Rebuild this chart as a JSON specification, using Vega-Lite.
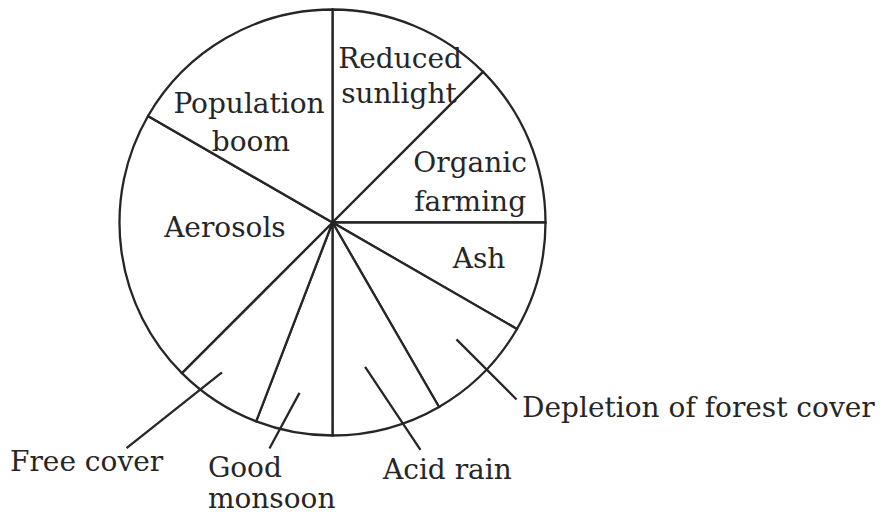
{
  "$schema": "https://vega.github.io/schema/vega-lite/v6.json",
  "width": 665,
  "height": 445,
  "autosize": {"type": "none"},
  "padding": {"left": 0, "top": 0, "right": 223, "bottom": 73},
  "background": "white",
  "config": {"view": {"stroke": null}},
  "datasets": {
    "slices": [
      {"order": 1, "cause": "Reduced sunlight", "degrees": 45},
      {"order": 2, "cause": "Organic farming", "degrees": 45},
      {"order": 3, "cause": "Ash", "degrees": 30},
      {"order": 4, "cause": "Depletion of forest cover", "degrees": 30},
      {"order": 5, "cause": "Acid rain", "degrees": 30},
      {"order": 6, "cause": "Good monsoon", "degrees": 21},
      {"order": 7, "cause": "Free cover", "degrees": 24},
      {"order": 8, "cause": "Aerosols", "degrees": 75},
      {"order": 9, "cause": "Population boom", "degrees": 60}
    ],
    "leaders": [
      {"cause": "Depletion of forest cover", "x1": 58.2, "y1": -54.9, "x2": 86.4, "y2": -83.1},
      {"cause": "Acid rain", "x1": 15.3, "y1": -67.8, "x2": 41.3, "y2": -106.8},
      {"cause": "Free cover", "x1": -51.9, "y1": -70.4, "x2": -96.7, "y2": -105.9},
      {"cause": "Good monsoon", "x1": -15.5, "y1": -80.0, "x2": -29.6, "y2": -106.1}
    ],
    "labels": [
      {"text": "Reduced", "x": 31.7, "y": 72.5, "align": "center"},
      {"text": "sunlight", "x": 31.2, "y": 56.1, "align": "center"},
      {"text": "Population", "x": -39.2, "y": 51.6, "align": "center"},
      {"text": "boom", "x": -38.3, "y": 33.8, "align": "center"},
      {"text": "Organic", "x": 64.6, "y": 23.5, "align": "center"},
      {"text": "farming", "x": 64.6, "y": 5.4, "align": "center"},
      {"text": "Ash", "x": 68.8, "y": -21.4, "align": "center"},
      {"text": "Aerosols", "x": -50.5, "y": -6.8, "align": "center"},
      {"text": "Depletion of forest cover", "x": 89.0, "y": -91.3, "align": "left"},
      {"text": "Acid rain", "x": 23.7, "y": -120.4, "align": "left"},
      {"text": "Free cover", "x": -151.4, "y": -116.7, "align": "left"},
      {"text": "Good", "x": -58.5, "y": -119.5, "align": "left"},
      {"text": "monsoon", "x": -58.5, "y": -134.0, "align": "left"}
    ]
  },
  "layer": [
    {
      "data": {"name": "slices"},
      "mark": {"type": "arc", "outerRadius": 213, "fill": "white", "stroke": "#262626", "strokeWidth": 2.3},
      "encoding": {
        "theta": {"field": "degrees", "type": "quantitative", "stack": true},
        "order": {"field": "order", "type": "quantitative"}
      }
    },
    {
      "data": {"name": "leaders"},
      "mark": {"type": "rule", "stroke": "#262626", "strokeWidth": 2.3},
      "encoding": {
        "x": {"field": "x1", "type": "quantitative", "scale": {"domain": [-156.1, 156.1], "nice": false, "zero": false}, "axis": null},
        "y": {"field": "y1", "type": "quantitative", "scale": {"domain": [-104.46, 104.46], "nice": false, "zero": false}, "axis": null},
        "x2": {"field": "x2"},
        "y2": {"field": "y2"}
      }
    },
    {
      "data": {"name": "labels"},
      "transform": [{"filter": "datum.align == 'center'"}],
      "mark": {"type": "text", "align": "center", "baseline": "alphabetic", "font": "DejaVu Serif", "fontSize": 28, "fill": "#262626"},
      "encoding": {
        "x": {"field": "x", "type": "quantitative", "scale": {"domain": [-156.1, 156.1], "nice": false, "zero": false}, "axis": null},
        "y": {"field": "y", "type": "quantitative", "scale": {"domain": [-104.46, 104.46], "nice": false, "zero": false}, "axis": null},
        "text": {"field": "text"}
      }
    },
    {
      "data": {"name": "labels"},
      "transform": [{"filter": "datum.align == 'left'"}],
      "mark": {"type": "text", "align": "left", "baseline": "alphabetic", "font": "DejaVu Serif", "fontSize": 28, "fill": "#262626"},
      "encoding": {
        "x": {"field": "x", "type": "quantitative", "scale": {"domain": [-156.1, 156.1], "nice": false, "zero": false}, "axis": null},
        "y": {"field": "y", "type": "quantitative", "scale": {"domain": [-104.46, 104.46], "nice": false, "zero": false}, "axis": null},
        "text": {"field": "text"}
      }
    }
  ]
}
